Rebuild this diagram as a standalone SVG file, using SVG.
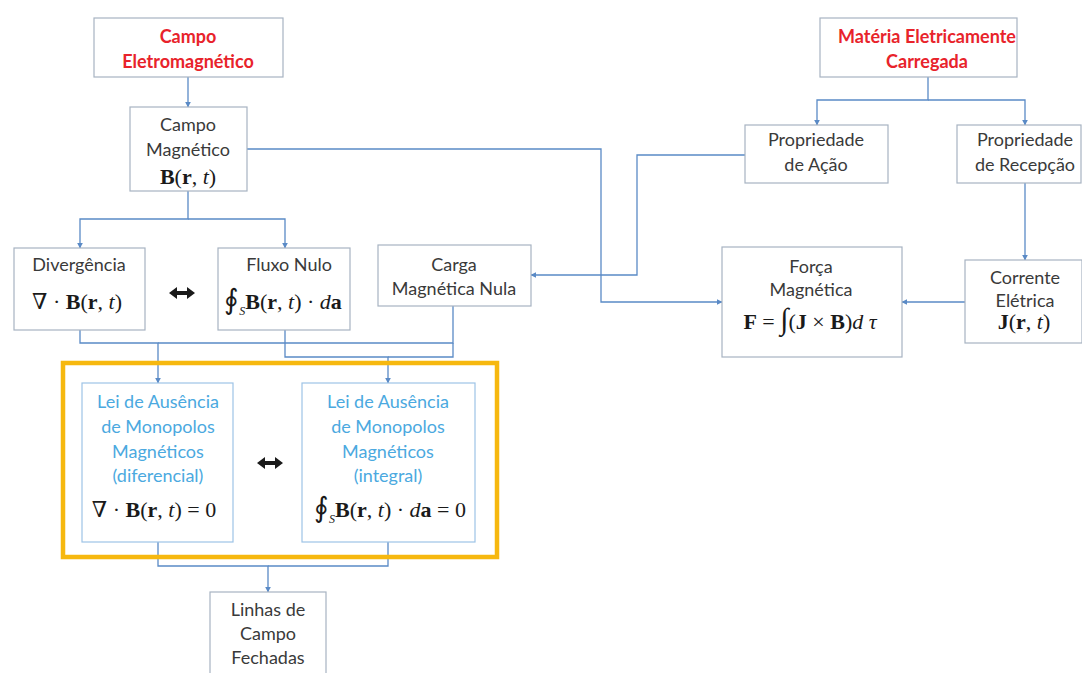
<svg xmlns="http://www.w3.org/2000/svg" width="1082" height="673" viewBox="0 0 1082 673">
  <defs>
    <marker id="arr" viewBox="0 0 10 10" refX="9" refY="5" markerWidth="6" markerHeight="6" markerUnits="userSpaceOnUse" orient="auto">
      <path d="M0,0 L10,5 L0,10 z" fill="#5A8AC6"/>
    </marker>
    <!-- short thick double-headed arrow -->
    <path id="dbl" d="M0,0 l8,-6 v4 h10 v-4 l8,6 l-8,6 v-4 h-10 v4 z" fill="#1a1a1a"/>
  </defs>
  <style>
    .box { fill: #ffffff; stroke: #A7B3C2; stroke-width: 1.2; }
    .lbox { fill: #ffffff; stroke: #9DC3E6; stroke-width: 1.2; }
    .frame { fill: none; stroke: #F6B80F; stroke-width: 4.5; }
    .conn { fill: none; stroke: #5A8AC6; stroke-width: 1.3; }
    .t { font-family: "Lato", "Liberation Sans", sans-serif; font-size: 18px; fill: #3a3a3a; text-anchor: middle; }
    .red { fill: #E8232B; font-weight: bold; }
    .blue { fill: #4BA9E0; }
    .m { font-family: "Liberation Serif", "DejaVu Serif", serif; font-size: 22px; fill: #1a1a1a; text-anchor: middle; }
    .bf { font-weight: bold; }
    .it { font-style: italic; }
  </style>
  <rect width="1082" height="673" fill="#ffffff"/>

  <!-- connectors -->
  <g id="connectors">
    <path class="conn" d="M188,77 V107" marker-end="url(#arr)"/>
    <path class="conn" d="M188,191 V219 H80 V248" marker-end="url(#arr)"/>
    <path class="conn" d="M188,219 H285 V248" marker-end="url(#arr)"/>
    <path class="conn" d="M247,149 H601 V302 H722" marker-end="url(#arr)"/>
    <path class="conn" d="M928,77 V100 H817 V125" marker-end="url(#arr)"/>
    <path class="conn" d="M928,100 H1025 V125" marker-end="url(#arr)"/>
    <path class="conn" d="M1025,183 V260" marker-end="url(#arr)"/>
    <path class="conn" d="M745,155 H637 V275 H531" marker-end="url(#arr)"/>
    <path class="conn" d="M965,302 H902" marker-end="url(#arr)"/>
    <path class="conn" d="M80,330 V343 H158 V383" marker-end="url(#arr)"/>
    <path class="conn" d="M453,306 V343 H158"/>
    <path class="conn" d="M285,330 V357 H388 V383" marker-end="url(#arr)"/>
    <path class="conn" d="M453,343 V357 H388"/>
    <path class="conn" d="M158,542 V566 H268 V592" marker-end="url(#arr)"/>
    <path class="conn" d="M388,542 V566 H268"/>
  </g>

  <!-- highlighted pair of laws -->
  <rect class="frame" x="63" y="363" width="434" height="194"/>

  <g id="campo-eletromagnetico">
    <rect class="box" x="94" y="18" width="189" height="59"/>
    <text class="t red" x="188" y="43">Campo</text>
    <text class="t red" x="188" y="68">Eletromagnético</text>
  </g>

  <g id="campo-magnetico">
    <rect class="box" x="130" y="107" width="117" height="84"/>
    <text class="t" x="188" y="131">Campo</text>
    <text class="t" x="188" y="156">Magnético</text>
    <text class="m" x="188" y="184"><tspan class="bf">B</tspan>(<tspan class="bf">r</tspan>, <tspan class="it">t</tspan>)</text>
  </g>

  <g id="materia">
    <rect class="box" x="820" y="18" width="197" height="59"/>
    <text class="t red" x="927" y="43">Matéria Eletricamente</text>
    <text class="t red" x="927" y="68">Carregada</text>
  </g>

  <g id="prop-acao">
    <rect class="box" x="745" y="125" width="143" height="58"/>
    <text class="t" x="816" y="146">Propriedade</text>
    <text class="t" x="816" y="171">de Ação</text>
  </g>

  <g id="prop-recepcao">
    <rect class="box" x="957" y="125" width="124" height="58"/>
    <text class="t" x="1025" y="146">Propriedade</text>
    <text class="t" x="1025" y="171">de Recepção</text>
  </g>

  <g id="divergencia">
    <rect class="box" x="14" y="248" width="131" height="82"/>
    <text class="t" x="79" y="271">Divergência</text>
    <text class="m" x="77" y="309">∇ · <tspan class="bf">B</tspan>(<tspan class="bf">r</tspan>, <tspan class="it">t</tspan>)</text>
  </g>

  <use href="#dbl" x="169" y="293"/>

  <g id="fluxo-nulo">
    <rect class="box" x="218" y="248" width="132" height="82"/>
    <text class="t" x="289" y="271">Fluxo Nulo</text>
    <text class="m" x="283" y="309"><tspan font-size="28">∮</tspan><tspan class="it" font-size="12" dy="6">S</tspan><tspan class="bf" dy="-6">B</tspan>(<tspan class="bf">r</tspan>, <tspan class="it">t</tspan>) · <tspan class="it">d</tspan><tspan class="bf">a</tspan></text>
  </g>

  <g id="carga-nula">
    <rect class="box" x="378" y="245" width="153" height="61"/>
    <text class="t" x="454" y="271">Carga</text>
    <text class="t" x="454" y="295">Magnética Nula</text>
  </g>

  <g id="forca">
    <rect class="box" x="722" y="247" width="180" height="110"/>
    <text class="t" x="811" y="273">Força</text>
    <text class="t" x="811" y="296">Magnética</text>
    <text class="m" x="810" y="329"><tspan class="bf">F</tspan> = <tspan font-size="30">∫</tspan>(<tspan class="bf">J</tspan> × <tspan class="bf">B</tspan>)<tspan class="it">d</tspan> <tspan class="it">τ</tspan></text>
  </g>

  <g id="corrente">
    <rect class="box" x="965" y="260" width="117" height="83"/>
    <text class="t" x="1025" y="284">Corrente</text>
    <text class="t" x="1025" y="307">Elétrica</text>
    <text class="m" x="1024" y="329"><tspan class="bf">J</tspan>(<tspan class="bf">r</tspan>, <tspan class="it">t</tspan>)</text>
  </g>

  <g id="lei-diferencial">
    <rect class="lbox" x="82" y="383" width="151" height="159"/>
    <text class="t blue" x="158" y="408">Lei de Ausência</text>
    <text class="t blue" x="158" y="433">de Monopolos</text>
    <text class="t blue" x="158" y="458">Magnéticos</text>
    <text class="t blue" x="158" y="482">(diferencial)</text>
    <text class="m" x="154" y="517">∇ · <tspan class="bf">B</tspan>(<tspan class="bf">r</tspan>, <tspan class="it">t</tspan>) = 0</text>
  </g>

  <use href="#dbl" x="257" y="463"/>

  <g id="lei-integral">
    <rect class="lbox" x="302" y="383" width="173" height="159"/>
    <text class="t blue" x="388" y="408">Lei de Ausência</text>
    <text class="t blue" x="388" y="433">de Monopolos</text>
    <text class="t blue" x="388" y="458">Magnéticos</text>
    <text class="t blue" x="388" y="482">(integral)</text>
    <text class="m" x="390" y="517"><tspan font-size="28">∮</tspan><tspan class="it" font-size="12" dy="6">S</tspan><tspan class="bf" dy="-6">B</tspan>(<tspan class="bf">r</tspan>, <tspan class="it">t</tspan>) · <tspan class="it">d</tspan><tspan class="bf">a</tspan> = 0</text>
  </g>

  <g id="linhas-fechadas">
    <rect class="box" x="210" y="592" width="116" height="90"/>
    <text class="t" x="268" y="616">Linhas de</text>
    <text class="t" x="268" y="640">Campo</text>
    <text class="t" x="268" y="664">Fechadas</text>
  </g>
</svg>
